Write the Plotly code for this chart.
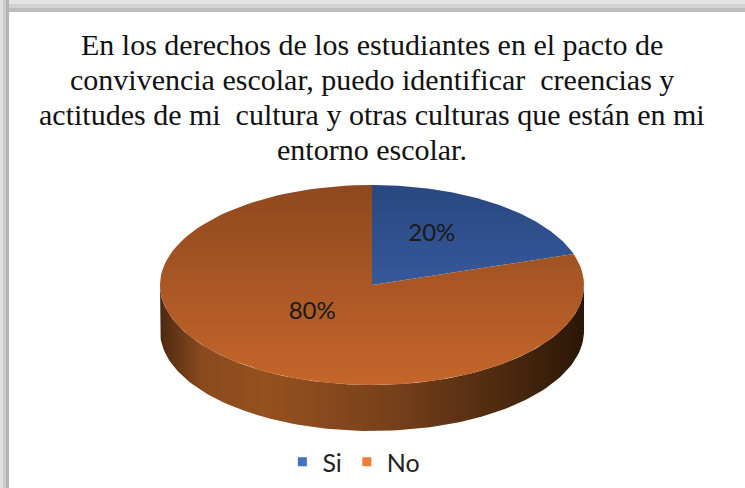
import numpy as np
import plotly.graph_objects as go

# ---- data ----
categories = ["Si", "No"]
values = [20, 80]
legend_colors = ["#4472C4", "#ED7D31"]
title_lines = [
    "En los derechos de los estudiantes en el pacto de",
    "convivencia escolar, puedo identificar  creencias y",
    "actitudes de mi  cultura y otras culturas que están en mi",
    "entorno escolar.",
]

# ---- geometry / style ----
CX, CY, RX, RY, DEPTH = 372, 285, 212, 100, 46
top_scales = [
    [[0, "#36599a"], [1, "#294780"]],
    [[0, "#c5662b"], [1, "#8e481e"]],
]
side_scales = [
    [[0, "#1c2f55"], [0.2, "#2b4a80"], [1, "#131f38"]],
    [[0, "#4c2910"], [0.1, "#8a4a1e"], [0.25, "#95511f"], [0.55, "#77401a"],
     [0.85, "#46260e"], [1, "#2a1606"]],
]
title_y = [44, 79, 114, 149]


def arc(a, b, dy=0.0, n=120):
    t = np.radians(np.linspace(a, b, n))
    return CX + RX * np.sin(t), CY - RY * np.cos(t) + dy


total = float(sum(values))
bounds = np.concatenate([[0], np.cumsum(values) / total * 360.0])

fig = go.Figure()

# sides (front half only)
for i, cat in enumerate(categories):
    a, b = bounds[i], bounds[i + 1]
    a2, b2 = max(a, 90.0), min(b, 270.0)
    if a2 < b2:
        x1, y1 = arc(a2, b2)
        x2, y2 = arc(b2, a2, DEPTH)
        fig.add_trace(go.Scatter(
            x=np.concatenate([x1, x2]), y=np.concatenate([y1, y2]),
            mode="lines", fill="toself", line=dict(width=0),
            fillgradient=dict(type="horizontal", colorscale=side_scales[i]),
            hoverinfo="skip", showlegend=False))

# top faces
for i, cat in enumerate(categories):
    a, b = bounds[i], bounds[i + 1]
    xs, ys = arc(a, b)
    fig.add_trace(go.Scatter(
        x=np.concatenate([[CX], xs, [CX]]), y=np.concatenate([[CY], ys, [CY]]),
        mode="lines", fill="toself", line=dict(width=0),
        fillgradient=dict(type="vertical", colorscale=top_scales[i]),
        hoverinfo="skip", showlegend=False))

# data labels
for i, cat in enumerate(categories):
    m = np.radians((bounds[i] + bounds[i + 1]) / 2)
    fig.add_trace(go.Scatter(
        x=[CX + 0.48 * RX * np.sin(m)], y=[CY - 0.48 * RY * np.cos(m) - 11],
        mode="text", text=[f"{values[i] / total:.0%}"],
        textfont=dict(family="Lato", size=24, color="#1a1a1a"),
        hoverinfo="skip", showlegend=False))

# legend entries
for i, cat in enumerate(categories):
    fig.add_trace(go.Scatter(
        x=[None], y=[None], mode="markers", name=cat,
        marker=dict(symbol="square", size=9, color=legend_colors[i])))

# frame shadow
shapes = []
for (y0, y1, c) in [(0, 4, "#e4e4e4"), (4, 8, "#d2d2d2"), (8, 12, "#bcbcbc")]:
    shapes.append(dict(type="rect", xref="x", yref="y", x0=0, x1=745, y0=y0, y1=y1,
                       fillcolor=c, line=dict(width=0), layer="below"))
for (x0, x1, c) in [(0, 3, "#dedede"), (3, 6, "#cbcbcb"), (6, 9, "#b4b4b4")]:
    shapes.append(dict(type="rect", xref="x", yref="y", x0=x0, x1=x1, y0=0, y1=488,
                       fillcolor=c, line=dict(width=0), layer="below"))

annotations = [
    dict(text=line, x=372, y=y, xref="x", yref="y", xanchor="center",
         yanchor="middle", showarrow=False,
         font=dict(family="Liberation Serif", size=30, color="#111111"))
    for line, y in zip(title_lines, title_y)
]

fig.update_layout(
    width=745, height=488,
    margin=dict(l=0, r=0, t=0, b=0),
    paper_bgcolor="white", plot_bgcolor="white",
    xaxis=dict(range=[0, 745], visible=False, fixedrange=True),
    yaxis=dict(range=[488, 0], visible=False, fixedrange=True),
    shapes=shapes,
    annotations=annotations,
    showlegend=True,
    legend=dict(orientation="h", x=0.475, xanchor="center", y=1 - 462 / 488,
                yanchor="middle", font=dict(family="Lato", size=25, color="#222222"),
                itemwidth=30, bgcolor="rgba(0,0,0,0)"),
)

fig.write_html("out.html", config={"displayModeBar": False},
               post_script="document.body.style.margin='0';")
